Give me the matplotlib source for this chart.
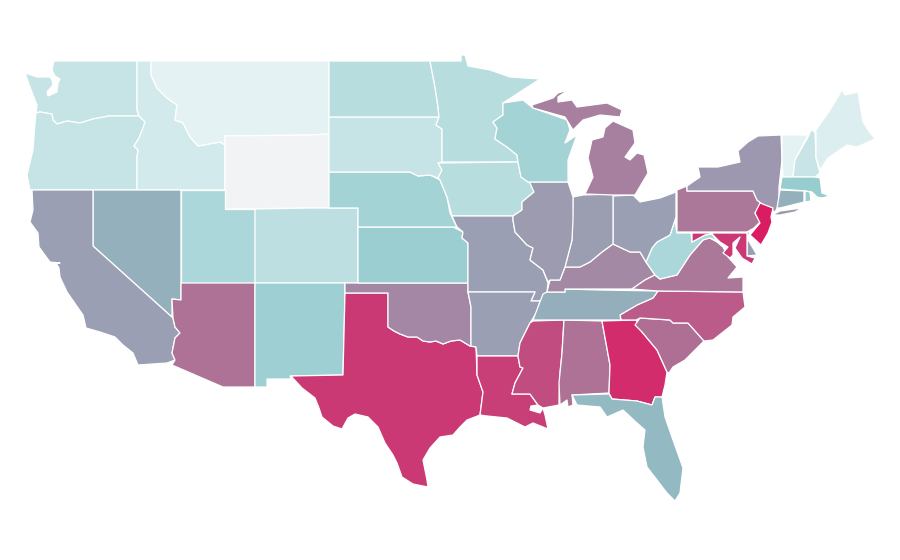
import matplotlib.pyplot as plt
from matplotlib.colors import LinearSegmentedColormap

# state outlines as (x, y) in picture pixels
WA = [(54,61),(137,61),(137,110),(139,116),(109,116),(93,119),(80,123),(67,121),(57,124),(53,120),(52,114),(40,112),(36,113),(37,105),(35,100),(30,87),(25,73),(37,77),(50,77),(52,80),(53,85),(47,92),(48,96),(57,92),(58,83),(60,79),(55,76),(52,70)]
OR = [(36,113),(40,112),(52,114),(53,120),(57,124),(67,121),(80,123),(93,119),(109,116),(139,116),(145,122),(143,128),(139,138),(134,146),(138,150),(137,157),(137,190),(30,190),(27,175),(33,150),(35,123)]
ID = [(137,61),(151,61),(151,75),(157,88),(167,98),(177,105),(175,120),(183,123),(190,137),(198,146),(220,142),(225,145),(225,190),(137,190),(137,157),(138,150),(134,146),(139,138),(143,128),(145,122),(139,116),(137,110)]
MT = [(151,61),(329,61),(329,134),(310,135),(225,136),(225,145),(220,142),(198,146),(190,137),(183,123),(175,120),(177,105),(167,98),(157,88),(151,75)]
WY = [(225,136),(310,135),(329,134),(329,208),(310,208),(225,209)]
NV = [(93,190),(181,190),(181,300),(172,299),(172,317),(173,318),(93,246)]
CA = [(32,190),(93,190),(93,246),(173,318),(175,327),(180,333),(175,338),(173,348),(172,353),(175,360),(167,363),(138,365),(133,353),(123,345),(115,337),(100,332),(86,328),(83,315),(67,292),(60,277),(59,268),(56,263),(60,263),(50,262),(39,247),(38,233),(30,222),(33,210)]
UT = [(181,190),(225,190),(225,209),(255,209),(255,283),(181,283)]
CO = [(255,209),(310,208),(358,208),(358,283),(255,283)]
AZ = [(181,283),(255,283),(255,387),(223,387),(172,365),(175,360),(172,353),(173,348),(175,338),(180,333),(175,327),(173,318),(172,299),(181,300)]
NM = [(255,283),(345,283),(345,293),(343,375),(290,376),(291,379),(267,379),(267,387),(255,387)]
TX = [(345,293),(388,293),(388,327),(394,331),(400,334),(408,337),(417,337),(423,341),(430,342),(436,341),(443,344),(451,341),(460,340),(470,346),(476,347),(477,375),(483,392),(480,415),(467,420),(460,427),(453,435),(440,437),(430,448),(423,460),(427,480),(428,487),(413,484),(402,477),(397,463),(393,455),(385,443),(378,427),(368,417),(355,414),(348,418),(342,429),(333,426),(322,417),(319,408),(315,398),(302,388),(291,376),(343,375)]
OK = [(345,283),(468,283),(468,292),(471,307),(471,346),(470,346),(460,340),(451,341),(443,344),(436,341),(430,342),(423,341),(417,337),(408,337),(400,334),(394,331),(388,327),(388,293),(345,293)]
KS = [(358,227),(453,227),(463,232),(462,238),(468,243),(468,283),(358,283)]
NE = [(329,172),(410,172),(418,176),(430,175),(440,180),(447,197),(450,213),(457,227),(358,227),(358,208),(329,208)]
SD = [(329,117),(439,117),(436,125),(442,129),(442,162),(438,163),(442,170),(438,178),(430,175),(418,176),(410,172),(329,172)]
ND = [(329,61),(430,61),(435,87),(438,107),(439,117),(329,117)]
MN = [(430,61),(461,61),(461,55),(465,55),(468,66),(490,70),(510,77),(540,79),(503,103),(503,115),(493,122),(497,128),(495,139),(507,147),(517,155),(518,162),(442,162),(442,129),(436,125),(439,117),(438,107),(435,87)]
IA = [(438,163),(518,162),(521,177),(530,183),(534,192),(522,202),(522,210),(513,216),(452,216),(447,197),(440,180),(438,178),(442,170)]
MO = [(452,216),(513,216),(513,220),(515,232),(527,245),(533,248),(530,260),(543,270),(548,283),(547,292),(540,301),(531,301),(535,292),(468,292),(468,243),(462,238),(463,232),(457,227)]
AR = [(468,292),(535,292),(531,301),(540,301),(537,312),(530,323),(520,343),(518,356),(477,356),(476,347),(471,346),(471,307)]
LA = [(477,356),(518,356),(520,367),(523,368),(515,383),(512,394),(530,394),(538,405),(531,406),(530,410),(540,413),(543,408),(545,415),(548,429),(533,423),(525,427),(507,418),(487,416),(480,415),(483,392),(477,375)]
MS = [(533,321),(564,320),(562,353),(560,373),(559,397),(559,405),(543,408),(538,405),(530,394),(512,394),(515,383),(523,368),(520,367),(518,356),(520,343),(530,323)]
AL = [(564,320),(602,321),(610,365),(609,393),(572,395),(573,405),(568,407),(567,400),(560,405),(559,383),(562,353)]
GA = [(602,321),(636,320),(642,332),(657,350),(667,372),(665,385),(662,397),(655,397),(652,405),(637,401),(612,399),(609,393),(610,365)]
FL = [(572,395),(609,394),(612,399),(637,401),(652,405),(655,397),(662,397),(665,417),(673,440),(683,468),(680,493),(675,501),(667,493),(657,480),(647,467),(643,447),(645,430),(637,423),(623,410),(607,417),(600,407),(577,405)]
SC = [(635,325),(640,318),(670,320),(673,323),(688,323),(704,341),(693,352),(685,360),(673,367),(669,373),(667,372),(657,350),(642,332)]
NC = [(621,320),(620,315),(637,305),(653,298),(658,291),(743,292),(745,307),(733,317),(732,325),(713,340),(704,341),(688,323),(673,323),(670,320),(640,318),(636,320)]
TN = [(533,320),(543,294),(547,292),(565,292),(565,289),(600,290),(658,291),(653,298),(637,305),(620,315),(621,320)]
KY = [(547,292),(550,280),(560,280),(565,267),(580,267),(590,262),(602,252),(613,244),(630,252),(640,252),(646,262),(655,275),(645,280),(632,289),(565,289),(565,292)]
VA = [(632,289),(645,280),(655,275),(660,279),(677,275),(690,255),(703,240),(708,237),(717,242),(723,247),(728,257),(737,267),(728,278),(743,277),(743,292),(658,291)]
WV = [(675,220),(677,233),(691,233),(692,242),(705,235),(712,234),(717,241),(710,238),(703,240),(690,255),(677,275),(660,279),(655,275),(646,262),(652,248),(657,242),(670,235)]
OH = [(613,196),(633,195),(640,202),(660,198),(676,192),(676,217),(675,220),(670,235),(657,242),(652,248),(646,262),(640,252),(630,252),(613,244)]
IN = [(573,197),(583,195),(613,194),(613,244),(602,252),(590,262),(580,267),(565,267),(572,240)]
IL = [(528,182),(568,182),(573,197),(573,220),(572,240),(565,267),(560,280),(550,280),(548,282),(543,270),(530,260),(533,248),(527,245),(515,232),(513,220),(513,216),(522,210),(522,202),(534,192),(530,183)]
WI = [(503,103),(523,100),(533,108),(553,115),(567,120),(570,130),(565,143),(577,135),(568,160),(568,182),(528,182),(521,177),(518,162),(517,155),(507,147),(495,139),(497,128),(493,122),(503,115)]
MI_UP = [(532,105),(553,98),(558,93),(568,90),(558,97),(558,102),(572,100),(577,107),(607,103),(622,110),(620,117),(600,115),(583,120),(573,130),(565,117),(533,108)]
MI_LP = [(585,194),(593,177),(588,158),(592,140),(603,137),(605,128),(613,121),(633,130),(635,143),(625,157),(630,160),(637,153),(644,155),(648,173),(635,195),(613,195)]
PA = [(677,190),(687,186),(687,191),(753,191),(757,200),(762,204),(755,213),(760,222),(754,228),(747,232),(677,232)]
NY = [(687,191),(687,186),(700,177),(698,167),(718,167),(740,162),(738,151),(748,142),(758,136),(781,135),(782,160),(779,187),(779,205),(775,212),(762,204),(757,200),(753,191)]
NY_LI = [(772,215),(780,211),(802,208),(795,212),(780,215)]
VT = [(782,135),(808,135),(795,160),(793,177),(783,177),(782,160)]
NH = [(808,137),(811,130),(815,132),(816,158),(820,173),(815,177),(793,177),(795,160)]
ME = [(816,130),(830,110),(842,90),(845,95),(858,92),(863,122),(868,130),(875,139),(857,147),(847,145),(828,158),(820,170),(816,158)]
MA = [(782,177),(815,177),(820,178),(822,193),(830,196),(822,198),(817,197),(812,192),(805,191),(780,189)]
CT = [(780,190),(804,191),(804,202),(780,208),(777,208)]
RI = [(805,191),(810,192),(811,201),(805,202)]
NJ = [(760,203),(773,208),(771,217),(772,222),(768,233),(761,245),(750,235),(760,223),(755,213)]
DE = [(747,232),(750,232),(747,238),(757,255),(747,256)]
MD = [(692,233),(747,233),(747,256),(755,258),(752,264),(742,258),(735,248),(740,237),(733,243),(733,255),(730,258),(723,253),(728,247),(720,242),(712,234),(705,235),(692,242)]

outlines = [WA, OR, ID, MT, WY, NV, CA, UT, CO, AZ, NM, TX, OK, KS, NE, SD, ND, MN, IA, MO, AR, LA, MS, AL, GA, FL, SC, NC, TN, KY, VA, WV, OH, IN, IL, WI, MI_UP, MI_LP, PA, NY, NY_LI, VT, NH, ME, MA, CT, RI, NJ, DE, MD]
# how far along the colour ramp each state sits, same order as outlines
values = [.19, .19, .144, .08, 0.0, .47, .55, .28, .215, .75, .33, .915, .66, .34, .31, .19, .236, .236, .236, .55, .55, .90, .86, .75, .955, .43, .76, .82, .48, .65, .73, .28, .55, .56, .57, .31, .69, .69, .73, .58, .58, .08, .18, .11, .35, .47, .34, 1.0, .55, .92]

ramp_stops = [0, .08, .35, .45, .55, .75, 1]
ramp_colors = ['#f2f3f5', '#e4f2f4', '#98cdd0', '#92b4c0', '#9a9fb3', '#ad7397', '#da1d63']
ramp = LinearSegmentedColormap.from_list('ramp', list(zip(ramp_stops, ramp_colors)))

fig = plt.figure(figsize=(9, 5.6), dpi=100)
ax = fig.add_axes([0, 0, 1, 1])
for outline, value in zip(outlines, values):
    xs = [p[0] for p in outline]
    ys = [p[1] for p in outline]
    ax.fill(xs, ys, facecolor=ramp(float(value)), edgecolor='white', linewidth=0.9, joinstyle='round')
ax.set_xlim(0, 900)
ax.set_ylim(560, 0)
ax.axis('off')
fig.savefig('out.png', dpi=100)
